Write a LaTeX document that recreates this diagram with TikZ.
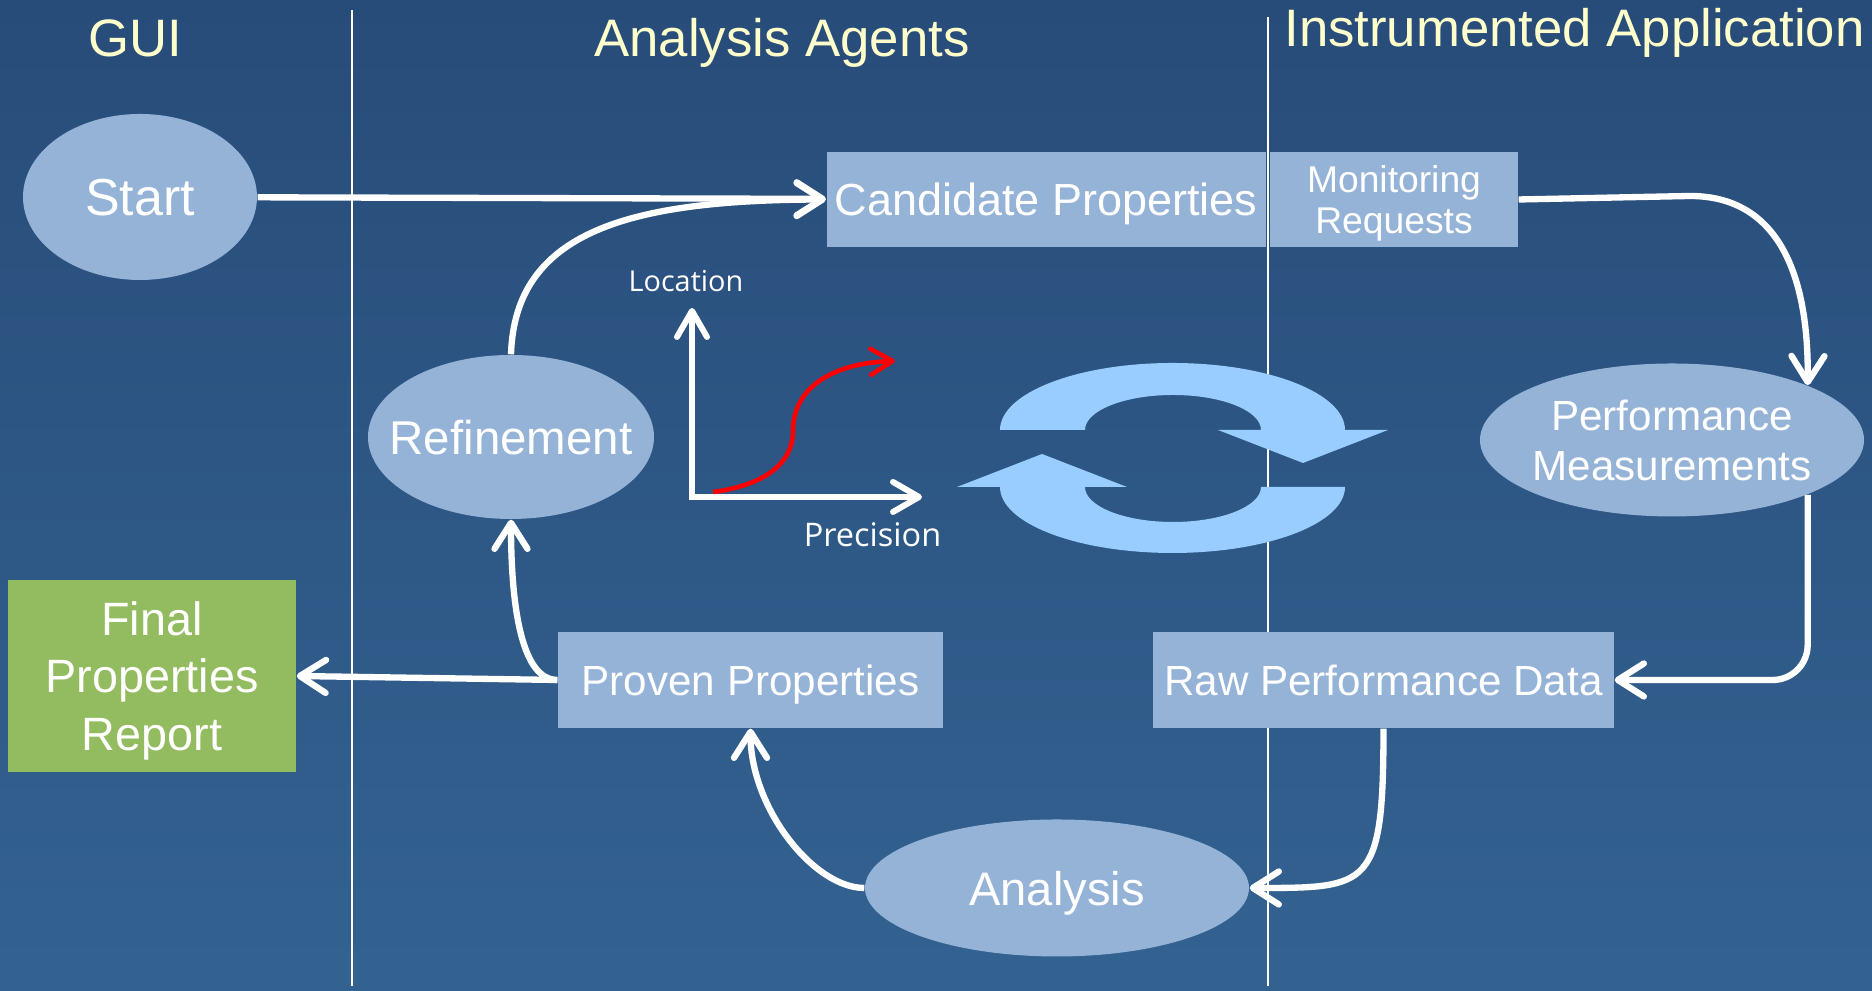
\documentclass[tikz,border=0pt]{standalone}
\usepackage{fontspec}
\setmainfont{Liberation Sans}
\newfontfamily\axisfont{Open Sans}
\usepackage{tikz}
\usetikzlibrary{positioning,arrows.meta,shapes.geometric}
\usepackage{xcolor}
\definecolor{bgtop}{RGB}{40,76,121}
\definecolor{bgbot}{RGB}{51,98,145}
\definecolor{boxblue}{RGB}{149,179,215}
\definecolor{boxgreen}{RGB}{147,187,95}
\definecolor{cyclblue}{RGB}{153,204,255}
\definecolor{headyellow}{RGB}{255,255,204}
\newcommand{\fsz}[2]{\fontsize{#1}{#2}\selectfont}

\begin{document}
\begin{tikzpicture}[>={Straight Barb[length=2.6mm,width=3.3mm,round]},
  flow/.style={->,draw=white,line width=1.8pt},
  box/.style={rectangle,fill=boxblue,text=white,inner sep=0pt,align=center,text depth=0pt},
  oval/.style={ellipse,fill=boxblue,text=white,inner sep=0pt,align=center,text depth=0pt},
  head/.style={anchor=base,text=headyellow,font=\fsz{15}{18}},
  axislabel/.style={anchor=base,text=white}]
\useasboundingbox (0,0) rectangle (18.72,9.91);
\fill[top color=bgtop,bottom color=bgbot] (0,0) rectangle (18.72,9.91);
% swim lanes
\draw[white,line width=0.6pt] (3.52,9.81) -- (3.52,0.05);
\draw[white,line width=0.6pt] (12.68,9.74) -- (12.68,0.05);

\node[head] (gui) at (1.355,9.34) {GUI};
\node[head] (agents) at (7.82,9.34) {Analysis Agents};
\node[head] (app) at (15.745,9.44) {Instrumented Application};

% the loop
\node[oval,minimum width=2.34cm,minimum height=1.66cm,font=\fsz{14.8}{17}] (start) at (1.40,7.94) {Start};
\node[box,minimum width=4.39cm,minimum height=0.95cm,font=\fsz{12.8}{15}] (cand) at (10.46,7.915) {Candidate Properties};
\node[box,minimum width=2.48cm,minimum height=0.95cm,font=\fsz{10.6}{11.7}] (mon) at (13.94,7.915) {Monitoring\\Requests};
\node[oval,inner xsep=-1mm,minimum width=3.84cm,minimum height=1.53cm,font=\fsz{12}{14.2}] (perf) at (16.72,5.51) {Performance\\Measurements};
\node[box,minimum width=4.61cm,minimum height=0.96cm,font=\fsz{12}{14}] (raw) at (13.835,3.11) {Raw Performance Data};
\node[oval,minimum width=3.84cm,minimum height=1.37cm,font=\fsz{13.4}{16}] (ana) at (10.57,1.03) {Analysis};
\node[box,minimum width=3.85cm,minimum height=0.96cm,font=\fsz{12}{14}] (proven) at (7.505,3.11) {Proven Properties};
\node[oval,inner xsep=-2.2mm,minimum width=2.86cm,minimum height=1.64cm,font=\fsz{13.5}{16}] (ref) at (5.11,5.54) {Refinement};
\node[box,fill=boxgreen,minimum width=2.88cm,minimum height=1.92cm,font=\fsz{13.3}{16.4}] (final) at (1.52,3.15) {Final\\Properties\\Report};

\draw[flow] (start) -- (cand);
\draw[flow] (ref.north) .. controls (5.15,7.6) and (6.3,7.91) .. (cand.west);
\draw[flow] (mon.east) -- (16.9,7.95) .. controls (17.7,7.95) and (18.09,7.3) .. (perf.22);
\draw[flow,rounded corners=0.35cm] (perf.-22) |- (raw.east);
\draw[flow] (raw.south) .. controls +(0,-1.6) and +(1.2,0) .. (ana.east);
\draw[flow] (ana.west) .. controls +(-0.5,0) and +(0,-0.8) .. (proven.south);
\draw[flow] (proven.west) .. controls +(-0.35,0) and +(0,-0.9) .. (ref.south);
\draw[flow] (proven.west) -- (final.east);

% precision / location plot
\coordinate (ytop) at (6.92,6.83);
\coordinate (xend) at (9.22,4.94);
\draw[white,line width=1.7pt,{Straight Barb[length=2.6mm,width=3mm,round]}-{Straight Barb[length=2.6mm,width=3mm,round]}] (ytop) |- (xend);
\node[axislabel,font=\axisfont\fsz{8.2}{10}] (loc) at (6.86,6.99) {Location};
\node[axislabel,font=\axisfont\fsz{9.25}{11}] (prec) at (8.725,4.44) {Precision};
\draw[red,line width=1.3pt,-{Straight Barb[length=2.2mm,width=2.6mm,round]}] (7.13,4.99) .. controls (7.60,5.05) and (7.93,5.25) .. (7.93,5.60) .. controls (7.93,6.05) and (8.35,6.28) .. (8.95,6.30);

% cycle symbol
\fill[cyclblue] (10.00,5.61) arc[start angle=180,end angle=0,x radius=1.725cm,y radius=0.67cm] -- (13.88,5.61) -- (13.03,5.28) -- (12.18,5.61) -- (12.61,5.61) arc[start angle=0,end angle=180,x radius=0.88cm,y radius=0.35cm] -- cycle;
\fill[cyclblue] (13.45,5.04) arc[start angle=0,end angle=-180,x radius=1.725cm,y radius=0.66cm] -- (9.57,5.04) -- (10.42,5.37) -- (11.27,5.04) -- (10.85,5.04) arc[start angle=180,end angle=360,x radius=0.88cm,y radius=0.35cm] -- cycle;
\end{tikzpicture}
\end{document}
